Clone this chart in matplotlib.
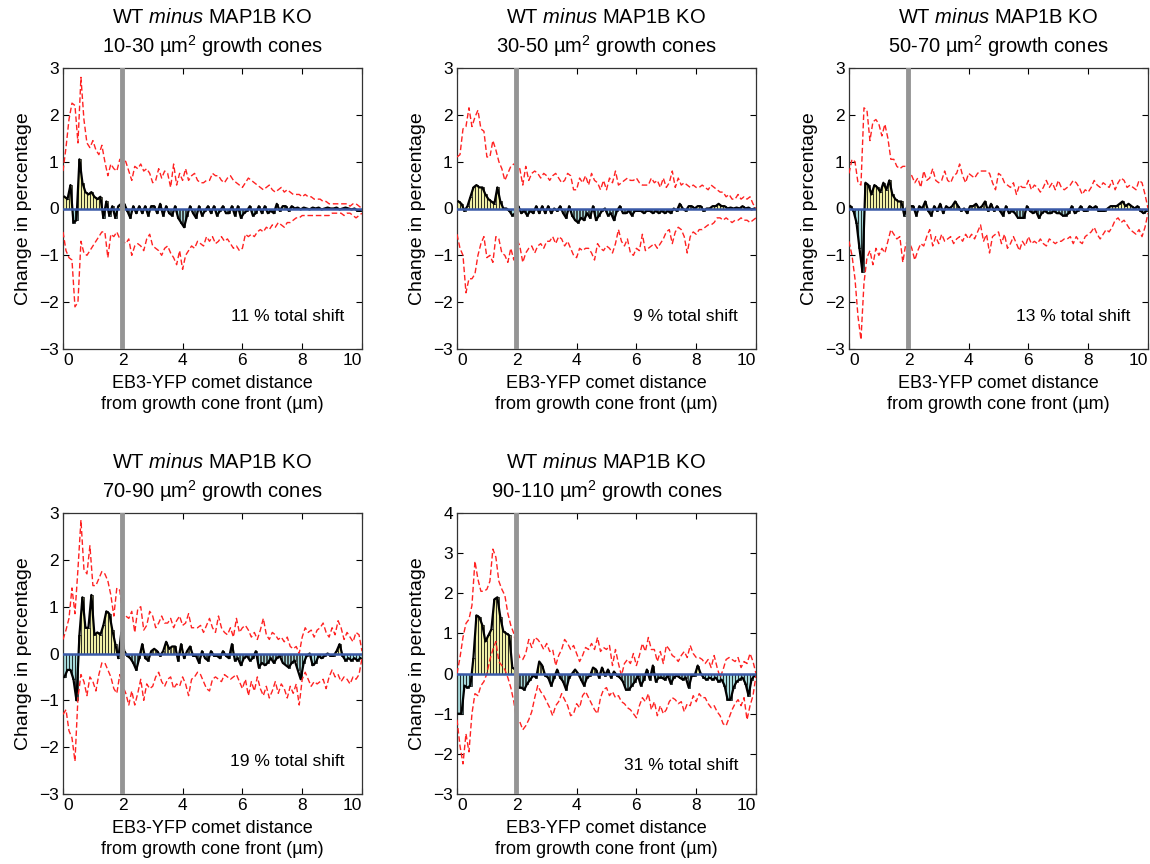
import numpy as np
import matplotlib
matplotlib.use("Agg")
import matplotlib.pyplot as plt

plt.rcParams['font.family'] = ['Liberation Sans', 'DejaVu Sans']
plt.rcParams['mathtext.fontset'] = 'custom'
plt.rcParams['mathtext.rm'] = 'Liberation Sans'
plt.rcParams['mathtext.it'] = 'Liberation Sans:italic'

# -----------------------
# DATA
# -----------------------
# bar centres: 0.1 um bins, red bound curves: 0..10 um in 0.1 steps
BIN_CENTRES = np.arange(100) * 0.1 + 0.05
BOUND_X = np.arange(101) * 0.1

SIZE_RANGES = ["10-30", "30-50", "50-70", "70-90", "90-110"]
TOTAL_SHIFT = [11, 9, 13, 19, 31]
Y_TOP = [3, 3, 3, 3, 4]

bars_10_30 = [0.25, 0.2, 0.5, -0.3, -0.25, 1.05, 0.55, 0.35, 0.3, 0.35,
              0.25, 0.2, 0.25, -0.2, 0.15, -0.15, 0.05, -0.2, 0.05, 0.1,
              0.1, -0.05, -0.2, 0.05, -0.1, 0.05, -0.1, 0.05, -0.15, 0.05,
              0.05, -0.1, 0.1, -0.15, 0.05, -0.1, -0.15, 0.05, -0.2, -0.3,
              -0.4, -0.15, 0.05, -0.1, -0.2, 0.05, -0.15, -0.05, 0.05, -0.1,
              0.05, -0.15, -0.05, 0.05, -0.1, -0.1, 0.05, -0.15, 0.05, -0.2,
              -0.1, -0.05, 0.05, -0.15, -0.1, 0.05, -0.1, 0.05, -0.1, -0.05,
              -0.1, 0.1, -0.05, 0.05, 0.05, -0.05, 0.05, 0.0, 0.02, -0.02,
              0.02, 0.0, -0.02, 0.02, 0.0, 0.02, -0.02, 0.0, 0.02, 0.0,
              0.0, 0.02, -0.02, 0.0, 0.02, 0.0, -0.02, 0.0, -0.05, -0.05]
upper_10_30 = [0.8, 1.3, 1.9, 2.25, 2.2, 1.4, 2.8, 1.9, 1.4, 1.3,
               1.45, 1.25, 1.15, 1.35, 1.0, 0.7, 0.95, 0.85, 0.8, 1.05,
               1.05, 1.0, 0.8, 0.6, 0.9, 0.85, 0.95, 0.8, 0.85, 0.75,
               0.55, 0.6, 0.85, 0.65, 0.8, 0.75, 0.45, 0.95, 0.5, 0.75,
               0.6, 0.85, 0.6, 0.7, 0.75, 0.6, 0.55, 0.55, 0.6, 0.6,
               0.75, 0.7, 0.7, 0.6, 0.55, 0.65, 0.7, 0.6, 0.55, 0.5,
               0.45, 0.55, 0.65, 0.6, 0.55, 0.5, 0.45, 0.4, 0.45, 0.5,
               0.4, 0.35, 0.4, 0.45, 0.35, 0.4, 0.35, 0.3, 0.3, 0.3,
               0.25, 0.3, 0.25, 0.25, 0.2, 0.2, 0.2, 0.15, 0.15, 0.1,
               0.1, 0.1, 0.1, 0.1, 0.1, 0.1, 0.05, 0.1, 0.1, 0.05,
               0.0]
lower_10_30 = [-0.5, -0.9, -1.05, -1.1, -2.1, -2.0, -0.7, -0.95, -1.0, -0.9,
               -0.8, -0.7, -0.6, -0.5, -0.5, -1.05, -0.55, -0.6, -0.5, -0.65,
               -0.7, -0.75, -0.65, -1.0, -0.8, -0.75, -0.8, -0.9, -0.65, -0.55,
               -0.8, -0.85, -0.9, -1.0, -0.85, -0.8, -0.95, -1.05, -1.2, -0.9,
               -1.3, -1.0, -0.9, -0.8, -0.85, -0.7, -0.75, -0.8, -0.6, -0.7,
               -0.6, -0.75, -0.7, -0.6, -0.7, -0.65, -0.75, -0.85, -0.8, -0.9,
               -0.85, -0.55, -0.6, -0.55, -0.6, -0.5, -0.45, -0.5, -0.4, -0.45,
               -0.35, -0.4, -0.3, -0.35, -0.4, -0.3, -0.3, -0.25, -0.2, -0.2,
               -0.15, -0.15, -0.15, -0.15, -0.15, -0.15, -0.15, -0.15, -0.15, -0.15,
               -0.1, -0.1, -0.1, -0.1, -0.15, -0.1, -0.1, -0.15, -0.2, -0.15,
               -0.1]

bars_30_50 = [0.15, 0.1, -0.05, 0.05, 0.25, 0.45, 0.5, 0.45, 0.45, 0.3,
              0.2, 0.15, 0.1, 0.45, 0.15, 0.0, 0.0, -0.05, -0.15, -0.1,
              0.05, -0.1, -0.05, -0.15, -0.05, -0.1, 0.05, -0.1, 0.05, -0.1,
              0.05, -0.1, 0.0, -0.05, 0.05, -0.1, -0.2, 0.05, -0.15, -0.25,
              -0.3, -0.2, -0.25, -0.1, -0.2, 0.05, -0.25, -0.15, -0.05, 0.0,
              -0.15, -0.1, -0.25, -0.05, 0.05, -0.1, -0.1, -0.05, -0.15, -0.05,
              -0.05, -0.05, -0.1, -0.05, -0.05, -0.1, -0.05, -0.1, -0.05, -0.1,
              -0.05, -0.1, 0.0, -0.05, 0.1, 0.0, -0.05, 0.05, 0.05, 0.0,
              0.05, 0.05, -0.05, 0.0, 0.0, 0.05, 0.05, 0.1, 0.05, 0.05,
              0.0, 0.02, 0.0, 0.02, 0.0, 0.05, 0.0, 0.02, -0.02, 0.0]
upper_30_50 = [1.1, 1.15, 1.7, 1.75, 2.15, 1.75, 1.95, 2.1, 1.7, 1.65,
               1.1, 1.1, 1.45, 1.25, 1.0, 0.85, 0.6, 0.75, 0.9, 0.95,
               0.9, 0.85, 0.5, 0.9, 0.6, 0.75, 0.8, 0.75, 0.65, 0.75,
               0.7, 0.6, 0.7, 0.75, 0.65, 0.55, 0.6, 0.75, 0.7, 0.4,
               0.4, 0.65, 0.55, 0.7, 0.5, 0.75, 0.6, 0.55, 0.4, 0.6,
               0.4, 0.65, 0.55, 0.8, 0.5, 0.55, 0.6, 0.65, 0.6, 0.6,
               0.65, 0.55, 0.5, 0.5, 0.5, 0.65, 0.55, 0.6, 0.45, 0.65,
               0.45, 0.55, 0.8, 0.45, 0.65, 0.5, 0.55, 0.5, 0.45, 0.5,
               0.45, 0.45, 0.5, 0.45, 0.4, 0.5, 0.45, 0.4, 0.35, 0.35,
               0.25, 0.3, 0.2, 0.2, 0.3, 0.2, 0.25, 0.2, 0.25, 0.1,
               0.0]
lower_30_50 = [-0.55, -0.85, -1.0, -1.8, -1.5, -1.5, -1.4, -1.0, -0.75, -0.6,
               -1.05, -1.0, -1.15, -0.6, -0.65, -0.95, -1.0, -1.15, -0.85, -1.1,
               -0.65, -0.8, -1.15, -0.95, -0.85, -0.8, -0.95, -0.8, -0.75, -0.85,
               -0.7, -0.7, -0.6, -0.75, -0.6, -0.65, -0.8, -0.7, -0.85, -1.0,
               -1.05, -0.85, -0.9, -0.85, -0.85, -0.95, -1.1, -0.75, -0.85, -0.9,
               -0.8, -0.85, -0.95, -0.75, -0.45, -0.7, -0.8, -0.65, -0.95, -1.0,
               -0.85, -0.9, -0.55, -0.9, -0.85, -0.8, -0.75, -0.85, -0.75, -0.65,
               -0.5, -0.45, -0.75, -0.5, -0.4, -0.45, -0.6, -0.95, -0.6, -0.5,
               -0.55, -0.45, -0.45, -0.4, -0.35, -0.35, -0.3, -0.2, -0.2, -0.25,
               -0.2, -0.25, -0.3, -0.25, -0.25, -0.2, -0.25, -0.25, -0.3, -0.25,
               -0.2]

bars_50_70 = [0.05, -0.05, -0.3, -0.85, -1.35, 0.55, 0.5, 0.3, 0.5, 0.45,
              0.35, 0.55, 0.4, 0.6, 0.3, 0.2, 0.15, 0.15, -0.15, 0.05,
              0.05, 0.05, -0.15, 0.05, 0.0, 0.15, -0.05, -0.15, 0.05, -0.05,
              0.1, -0.1, 0.05, 0.0, 0.05, 0.15, 0.05, -0.05, 0.0, -0.1,
              0.05, 0.05, 0.1, 0.0, 0.05, 0.15, -0.05, 0.1, -0.05, 0.05,
              -0.05, -0.15, 0.05, -0.1, -0.05, -0.1, -0.2, -0.2, -0.2, 0.05,
              -0.05, -0.1, -0.05, -0.2, -0.1, -0.05, -0.1, -0.1, -0.05, -0.1,
              -0.1, -0.15, -0.15, -0.1, 0.05, -0.1, -0.05, 0.05, -0.05, -0.05,
              0.05, 0.0, 0.05, -0.05, -0.05, -0.05, 0.0, 0.05, 0.05, 0.05,
              0.1, 0.15, 0.05, 0.1, 0.05, 0.0, 0.05, -0.05, -0.1, -0.05]
upper_50_70 = [0.75, 1.05, 1.0, 0.55, 0.5, 2.15, 2.1, 1.45, 1.85, 1.9,
               1.8, 1.55, 1.8, 1.5, 1.05, 1.05, 0.9, 0.85, 0.9, 0.9,
               0.75, 0.7, 0.55, 0.65, 0.45, 0.8, 0.6, 0.65, 0.85, 0.6,
               0.55, 0.6, 0.8, 0.6, 0.55, 0.7, 0.75, 0.95, 0.7, 0.55,
               0.75, 0.7, 0.65, 0.75, 0.8, 0.8, 0.8, 0.75, 0.55, 0.4,
               0.75, 0.7, 0.55, 0.5, 0.45, 0.55, 0.3, 0.5, 0.45, 0.45,
               0.6, 0.4, 0.5, 0.45, 0.35, 0.45, 0.6, 0.45, 0.55, 0.4,
               0.6, 0.45, 0.4, 0.45, 0.5, 0.6, 0.55, 0.45, 0.3, 0.4,
               0.35, 0.45, 0.6, 0.5, 0.45, 0.55, 0.5, 0.45, 0.6, 0.4,
               0.55, 0.65, 0.6, 0.45, 0.5, 0.45, 0.4, 0.6, 0.55, 0.3,
               0.0]
lower_50_70 = [-0.7, -1.0, -1.5, -2.3, -2.8, -1.6, -1.05, -0.9, -1.2, -0.85,
               -1.0, -0.85, -0.95, -0.7, -0.45, -0.55, -0.65, -0.6, -1.15, -0.75,
               -0.7, -0.85, -1.1, -0.9, -0.75, -0.8, -0.6, -0.45, -0.8, -0.6,
               -0.75, -0.55, -0.7, -0.65, -0.6, -0.75, -0.65, -0.6, -0.7, -0.55,
               -0.65, -0.55, -0.65, -0.5, -0.35, -0.7, -0.55, -0.95, -0.6, -0.55,
               -0.5, -0.75, -0.55, -0.85, -0.75, -0.6, -0.75, -0.9, -0.7, -0.8,
               -0.6, -0.75, -0.7, -0.75, -0.65, -0.75, -0.8, -0.65, -0.7, -0.75,
               -0.7, -0.7, -0.65, -0.65, -0.6, -0.75, -0.6, -0.7, -0.75, -0.6,
               -0.55, -0.5, -0.4, -0.55, -0.65, -0.55, -0.45, -0.5, -0.4, -0.25,
               -0.2, -0.3, -0.25, -0.35, -0.45, -0.5, -0.55, -0.45, -0.6, -0.4,
               -0.1]

bars_70_90 = [-0.5, -0.35, -0.35, -0.55, -1.0, 0.4, 1.2, 0.55, 0.55, 1.25,
              0.4, 0.45, 0.4, 0.6, 0.9, 0.85, 0.5, 0.2, -0.1, 0.45,
              0.05, -0.05, -0.1, -0.2, -0.35, -0.1, 0.2, -0.1, -0.15, 0.05,
              0.1, 0.05, -0.05, 0.05, 0.25, 0.1, 0.15, 0.15, -0.15, 0.2,
              -0.1, 0.05, 0.15, -0.05, -0.05, -0.2, 0.05, -0.1, -0.15, 0.05,
              -0.05, -0.05, -0.1, 0.05, -0.05, -0.1, 0.2, -0.15, -0.1, -0.25,
              -0.1, -0.05, -0.15, -0.1, 0.05, -0.3, -0.2, -0.25, -0.2, -0.1,
              -0.2, -0.1, -0.05, -0.2, -0.25, -0.3, -0.2, -0.15, -0.35, -0.55,
              -0.2, -0.05, 0.0, -0.25, -0.2, -0.05, -0.1, -0.05, 0.0, -0.05,
              -0.05, 0.05, 0.2, -0.05, -0.15, -0.1, -0.15, -0.1, -0.15, -0.1]
upper_70_90 = [0.3, 0.5, 0.75, 1.4, 0.85, 1.8, 2.85, 1.8, 1.7, 2.3,
               1.45, 1.45, 1.6, 1.75, 1.7, 1.55, 1.25, 0.8, 1.4, 1.35,
               0.75, 0.8, 0.75, 0.9, 0.45, 0.95, 1.0, 0.5, 0.6, 0.9,
               0.8, 0.55, 0.65, 0.8, 0.65, 0.65, 0.75, 0.55, 0.7, 0.8,
               0.6, 0.65, 0.85, 0.55, 0.55, 0.55, 0.6, 0.45, 0.6, 0.75,
               0.55, 0.45, 0.8, 0.55, 0.45, 0.4, 0.55, 0.35, 0.75, 0.45,
               0.55, 0.6, 0.5, 0.35, 0.45, 0.3, 0.5, 0.75, 0.4, 0.3,
               0.45, 0.4, 0.3, 0.35, 0.25, 0.35, 0.15, 0.1, 0.15, 0.0,
               0.35, 0.55, 0.45, 0.5, 0.35, 0.5, 0.55, 0.65, 0.45, 0.35,
               0.55, 0.4, 0.7, 0.55, 0.3, 0.45, 0.35, 0.25, 0.45, 0.4,
               0.05]
lower_70_90 = [-1.3, -1.2, -1.65, -1.8, -2.3, -0.95, -0.45, -0.6, -0.9, -0.5,
               -0.6, -0.8, -0.45, -0.2, -0.2, -0.35, -0.5, -0.75, -0.85, -0.45,
               -0.7, -0.85, -1.1, -0.8, -1.1, -0.85, -0.55, -1.0, -0.65, -0.75,
               -0.7, -0.5, -0.4, -0.6, -0.7, -0.55, -0.5, -0.75, -0.65, -0.7,
               -0.5, -0.65, -0.9, -0.55, -0.5, -0.4, -0.45, -0.6, -0.75, -0.8,
               -0.55, -0.5, -0.55, -0.6, -0.45, -0.5, -0.55, -0.5, -0.45, -0.6,
               -0.75, -0.55, -0.9, -0.6, -0.8, -0.5, -0.75, -0.9, -0.7, -0.95,
               -0.8, -0.6, -0.85, -0.65, -0.75, -0.95, -0.7, -0.85, -0.65, -1.1,
               -0.55, -0.4, -0.55, -0.7, -0.6, -0.65, -0.6, -0.55, -0.75, -0.5,
               -0.35, -0.5, -0.45, -0.6, -0.5, -0.55, -0.65, -0.5, -0.55, -0.45,
               -0.1]

bars_90_110 = [-1.0, -1.0, -0.3, -0.35, -0.3, 0.4, 1.45, 1.4, 1.2, 0.8,
               0.95, 1.1, 1.85, 1.9, 1.4, 1.05, 1.0, 0.95, 0.15, 0.1,
               -0.35, -0.35, -0.4, -0.25, -0.15, -0.05, -0.1, 0.3, 0.2, -0.05,
               -0.1, -0.3, -0.1, 0.1, -0.1, -0.2, -0.4, -0.1, 0.0, 0.1,
               0.0, -0.15, -0.3, -0.1, -0.05, 0.15, 0.1, -0.1, 0.15, -0.05,
               0.1, -0.1, 0.05, -0.05, -0.1, -0.2, -0.4, -0.4, -0.3, -0.2,
               -0.05, -0.3, -0.15, 0.1, -0.15, 0.2, -0.2, -0.1, -0.1, -0.15,
               -0.05, -0.25, -0.1, -0.05, -0.1, -0.15, -0.1, -0.35, -0.05, -0.05,
               0.2, 0.0, -0.1, -0.15, -0.1, -0.15, -0.1, -0.2, -0.15, -0.3,
               -0.65, -0.65, -0.35, -0.2, -0.15, -0.1, -0.25, -0.55, -0.15, -0.05]
upper_90_110 = [0.0, 0.4, 0.9, 1.25, 1.35, 1.7, 2.8, 2.35, 2.05, 2.05,
                2.1, 2.3, 3.1, 2.9, 2.3, 2.1, 1.95, 1.5, 1.2, 1.0,
                0.6, 0.4, 0.35, 0.5, 0.85, 0.65, 0.9, 0.85, 0.75, 0.6,
                0.75, 0.55, 0.6, 0.2, 0.45, 0.6, 0.85, 0.75, 0.6, 0.7,
                0.5, 0.3, 0.45, 0.65, 0.6, 0.75, 0.6, 0.9, 0.55, 0.65,
                0.6, 0.7, 0.2, 0.6, 0.25, -0.05, 0.25, 0.35, 0.25, 0.5,
                0.2, 0.45, 0.75, 0.55, 0.9, 0.6, 0.6, 0.3, 0.55, 0.25,
                0.7, 0.6, 0.45, 0.4, 0.3, 0.45, 0.55, 0.4, 0.7, 0.5,
                0.4, 0.4, 0.35, 0.25, 0.35, 0.15, 0.45, 0.15, -0.1, 0.1,
                0.35, 0.4, 0.35, 0.3, 0.4, 0.15, 0.3, 0.25, 0.5, 0.3,
                0.0]
lower_90_110 = [-1.15, -1.8, -2.25, -1.5, -1.95, -1.0, -0.5, -0.55, -0.3, -0.2,
                0.0, 0.35, 0.6, 0.8, 0.3, 0.2, 0.1, -0.1, -0.35, -0.7,
                -1.2, -1.2, -1.4, -1.3, -1.15, -0.95, -0.6, -0.3, -0.45, -0.55,
                -0.7, -0.85, -1.05, -0.8, -0.7, -0.5, -0.65, -0.8, -1.05, -1.0,
                -0.75, -0.85, -0.55, -0.45, -0.6, -0.75, -0.9, -1.0, -0.6, -0.4,
                -0.35, -0.55, -0.45, -0.6, -0.55, -0.7, -0.75, -0.85, -0.9, -1.0,
                -1.1, -0.8, -0.6, -0.7, -0.5, -0.9, -0.7, -1.05, -0.8, -1.0,
                -0.9, -0.7, -0.6, -0.65, -0.75, -0.7, -0.95, -0.75, -0.8, -0.55,
                -0.7, -0.5, -0.6, -0.6, -0.75, -0.85, -0.8, -0.95, -1.05, -1.25,
                -1.3, -1.1, -0.9, -0.75, -0.65, -0.8, -0.6, -1.15, -0.8, -0.55,
                -0.05]

BARS = [bars_10_30, bars_30_50, bars_50_70, bars_70_90, bars_90_110]
UPPER = [upper_10_30, upper_30_50, upper_50_70, upper_70_90, upper_90_110]
LOWER = [lower_10_30, lower_30_50, lower_50_70, lower_70_90, lower_90_110]

POS_COLOR = "#efefa6"
NEG_COLOR = "#a6d9da"


def draw_panel(ax, size_range, bars, upper, lower, shift, ytop):
    bars = np.asarray(bars)
    colors = [POS_COLOR if v >= 0 else NEG_COLOR for v in bars]
    ax.bar(BIN_CENTRES, bars, width=0.08, color=colors, edgecolor="k",
           linewidth=0.5, zorder=2)
    ax.plot(BIN_CENTRES, bars, color="k", lw=1.6, zorder=3)
    ax.plot(BOUND_X, upper, color="#ff2222", lw=1.0, ls=(0, (4, 2)), zorder=4)
    ax.plot(BOUND_X, lower, color="#ff2222", lw=1.0, ls=(0, (4, 2)), zorder=4)
    ax.axhline(0, color="#3a5aa8", lw=1.8, zorder=5)
    ax.axvline(1.97, color="#959595", lw=3.5, zorder=6)

    ax.set_xlim(0, 10)
    ax.set_ylim(-3, ytop)
    ax.set_xticks([0, 2, 4, 6, 8, 10])
    ax.set_yticks(range(-3, ytop + 1))
    ax.tick_params(direction="in", top=True, right=True, length=4,
                   labelsize=12.5, width=0.8, pad=3)
    xt = ax.get_xticklabels()
    xt[0].set_horizontalalignment("left")
    xt[-1].set_horizontalalignment("right")
    for sp in ax.spines.values():
        sp.set_linewidth(0.9)
        sp.set_color("#333333")

    ax.set_title("WT $\\mathit{minus}$ MAP1B KO\n" + size_range
                 + " µm$^{2}$ growth cones", fontsize=14.5, pad=11,
                 linespacing=1.3)
    ax.set_xlabel("EB3-YFP comet distance\nfrom growth cone front (µm)",
                  fontsize=13, labelpad=5, linespacing=1.3)
    ax.set_ylabel("Change in percentage", fontsize=14, labelpad=5)
    ax.text(9.4, -2.3, f"{shift} % total shift", ha="right", va="center",
            fontsize=12.5)


fig = plt.figure(figsize=(11.5, 8.64), dpi=100)
W, H = 1150, 864
boxes = [(63, 68), (457, 68), (849, 68), (63, 513), (457, 513)]
for i, (left, top) in enumerate(boxes):
    ax = fig.add_axes([left / W, 1 - (top + 281) / H, 299 / W, 281 / H])
    draw_panel(ax, SIZE_RANGES[i], BARS[i], UPPER[i], LOWER[i],
               TOTAL_SHIFT[i], Y_TOP[i])

fig.savefig("out.png", dpi=100)
